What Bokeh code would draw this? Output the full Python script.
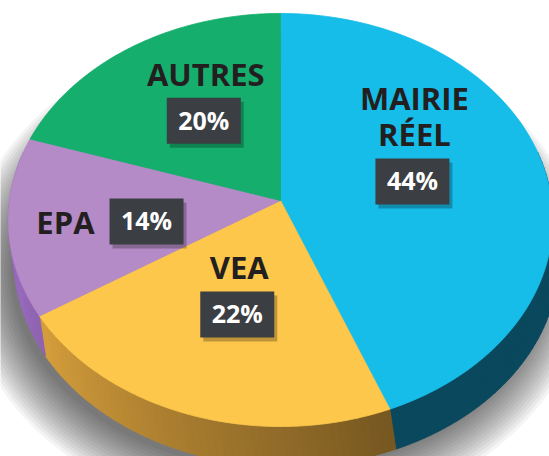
import numpy as np
from bokeh.plotting import figure
from bokeh.models import Range1d
from bokeh.core.properties import value
from bokeh.embed import file_html
from bokeh.resources import INLINE

# ---- data ----
categories = ["MAIRIE RÉEL", "VEA", "EPA", "AUTRES"]
name_lines = [["MAIRIE", "RÉEL"], ["VEA"], ["EPA"], ["AUTRES"]]
shares = [44, 22, 14, 20]
pct_labels = ["44%", "22%", "14%", "20%"]

# ---- style / layout ----
top_colors = ["#16bde9", "#fdc74b", "#b48bc6", "#15ae6d"]
side_rgb = [(20, 150, 195), (250, 185, 70), (165, 115, 205), (20, 160, 100)]
label_r = [0.5, 0.55, 0.5, 0.5]
label_dt = [0.0, 2.0, 4.5, 0.0]
W, H = 549, 456
CX, CY = 280.0, 200.0
A, B, K = 271.0, 204.7, 0.0944
DX, DEPTH = 6.0, 40.0
FONT = "Open Sans"
TXT_FIX = -11.0  # baseline correction for svg text


def proj(t_deg, r=1.0, grow=0.0):
    t = np.radians(t_deg)
    X = r * np.cos(t)
    Y = r * np.sin(t)
    w = 1 + K * Y
    return CX + (A + grow) * X / w, CY - (B + grow) * Y / w


def shade(rgb, f):
    return "#%02x%02x%02x" % tuple(int(max(0, min(255, c * f))) for c in rgb)


def light(t):
    f = 0.92 + (t + 160) * (0.48 - 0.92) / (-70 + 160)
    return max(0.48, min(0.92, f))


p = figure(width=W, height=H, x_range=Range1d(0, W), y_range=Range1d(H, 0),
           output_backend="svg", toolbar_location=None, min_border=0)
p.axis.visible = False
p.grid.visible = False
p.outline_line_color = None
p.background_fill_color = "white"

# soft shadow (layered polygons around the base outline)
shx, shy = [], []
ring = np.linspace(0, 360, 181)
for k in range(16):
    g = 3.0 * k - 6
    xs, ys = proj(ring, 1.0, g)
    shx.append(list(xs + DX - 10))
    shy.append(list(ys + DEPTH + 10))
p.patches(xs=shx, ys=shy, fill_color="black", fill_alpha=0.045, line_color=None)

# slice angles
starts, ends = [], []
cum = 0.0
for s in shares:
    starts.append(90 - 3.6 * cum)
    cum += s
    ends.append(90 - 3.6 * cum)

# sides
sx, sy, sc = [], [], []
for i in range(len(shares)):
    hi = min(starts[i], 14.0)
    lo = max(ends[i], -194.0)
    if hi <= lo:
        continue
    ts = np.linspace(hi, lo, max(2, int((hi - lo) / 1.5) + 1))
    for t1, t2 in zip(ts[:-1], ts[1:]):
        x1, y1 = proj(t1)
        x2, y2 = proj(t2)
        sx.append([x1, x2, x2 + DX, x1 + DX])
        sy.append([y1, y2, y2 + DEPTH, y1 + DEPTH])
        sc.append(shade(side_rgb[i], light((t1 + t2) / 2)))
p.patches(xs=sx, ys=sy, fill_color=sc, line_color=sc, line_width=0.8)

# top faces
tx, ty = [], []
for i in range(len(shares)):
    ts = np.linspace(starts[i], ends[i], 120)
    xs, ys = proj(ts)
    tx.append([CX] + list(xs))
    ty.append([CY] + list(ys))
p.patches(xs=tx, ys=ty, fill_color=top_colors, line_color=top_colors, line_width=0.8)

# labels
BW, BH = 74, 46
for i in range(len(shares)):
    mid = (starts[i] + ends[i]) / 2 + label_dt[i]
    bx, by = proj(mid, label_r[i])
    p.quad(left=bx - BW / 2 + 3, right=bx + BW / 2 + 3, top=by - BH / 2 + 4,
           bottom=by + BH / 2 + 4, fill_color="black", fill_alpha=0.25, line_color=None)
    p.quad(left=bx - BW / 2, right=bx + BW / 2, top=by - BH / 2,
           bottom=by + BH / 2, fill_color="#3b3e42", line_color=None)
    p.text(x=[bx], y=[by + 10 + TXT_FIX], text=[pct_labels[i]], text_color="white",
           text_font=value(FONT), text_font_style="bold",
           text_font_size=value("25px"), text_align="center",
           text_baseline="alphabetic")
    lines = name_lines[i]
    if categories[i] == "EPA":
        p.text(x=[bx - BW / 2 - 15], y=[by + 12 + TXT_FIX], text=[lines[0]],
               text_color="#231f20", text_font=value(FONT), text_font_style="bold",
               text_font_size=value("31px"), text_align="right",
               text_baseline="alphabetic")
    else:
        base = by - BH / 2 - 13 + TXT_FIX
        for j, ln in enumerate(reversed(lines)):
            p.text(x=[bx + 2], y=[base - 36 * j], text=[ln], text_color="#231f20",
                   text_font=value(FONT), text_font_style="bold",
                   text_font_size=value("31px"), text_align="center",
                   text_baseline="alphabetic")

open("out.html", "w").write(file_html(p, INLINE))
